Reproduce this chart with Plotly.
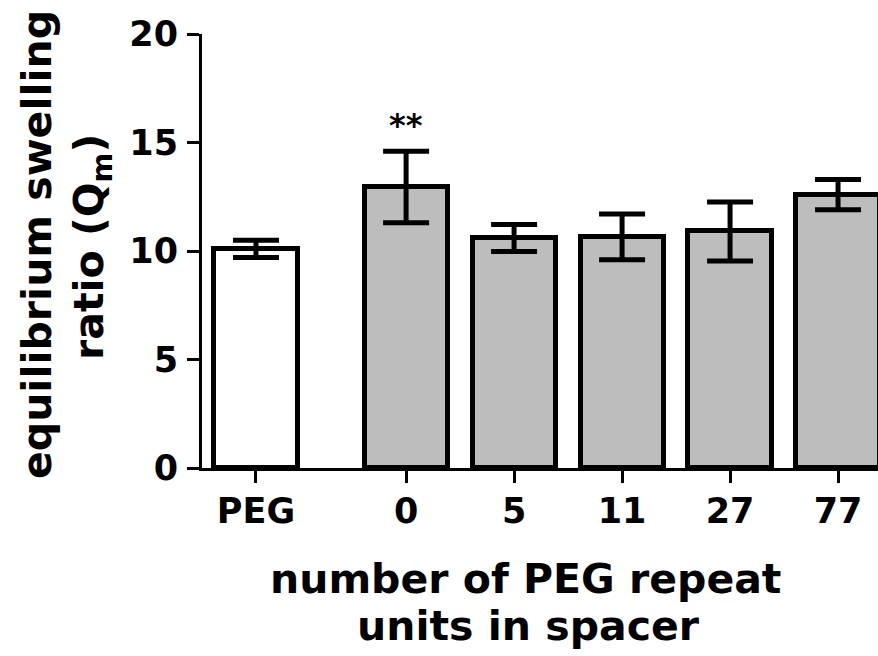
import plotly.graph_objects as go

categories = ["PEG", "0", "5", "11", "27", "77"]
means = [10.1, 12.95, 10.6, 10.65, 10.9, 12.6]
errors = [0.4, 1.65, 0.62, 1.05, 1.36, 0.7]
significance = ["", "**", "", "", "", ""]
y_ticks = [0, 5, 10, 15, 20]

# x positions: PEG separated from the spacer series by a wider gap
x_pos = [0.0] + [1.39 + i for i in range(len(categories) - 1)]
colors = ["white"] + ["#bdbdbd"] * (len(categories) - 1)

FONT = "DejaVu Sans"

fig = go.Figure()
fig.add_trace(go.Bar(
    x=x_pos, y=means, width=0.77,
    marker=dict(color=colors, line=dict(color="black", width=5)),
    error_y=dict(type="data", array=errors, visible=True,
                 color="black", thickness=5, width=23),
    showlegend=False, hoverinfo="skip",
))

for xp, m, e, s in zip(x_pos, means, errors, significance):
    if s:
        fig.add_annotation(x=xp, y=m + e, text=s, showarrow=False,
                           yanchor="bottom", yshift=5,
                           font=dict(family=FONT, size=32, color="black", weight="bold"))

W, H = 878, 656
L, R, T, B = 202, 0, 34, 188
pw, ph = W - L - R, H - T - B

def px(xpix):
    return (xpix - L) / pw

def py(ypix):
    return (H - B - ypix) / ph

title_font = dict(family=FONT, size=41, color="black", weight="bold")
# x axis title (two lines)
fig.add_annotation(xref="paper", yref="paper", x=px(525), y=py(593),
                   text="number of PEG repeat", showarrow=False,
                   xanchor="center", yanchor="middle", yshift=14, font=title_font)
fig.add_annotation(xref="paper", yref="paper", x=px(528), y=py(640),
                   text="units in spacer", showarrow=False,
                   xanchor="center", yanchor="middle", yshift=14, font=title_font)
# y axis title (two lines, rotated)
fig.add_annotation(xref="paper", yref="paper", x=px(37), y=py(245),
                   text="equilibrium swelling", showarrow=False, textangle=-90,
                   xanchor="center", yanchor="middle", font=title_font)
fig.add_annotation(xref="paper", yref="paper", x=px(92), y=py(247),
                   text="ratio (Q<sub>m</sub>)", showarrow=False, textangle=-90,
                   xanchor="center", yanchor="middle", font=title_font)

tick_font = dict(family=FONT, size=35, color="black", weight="bold")
fig.update_layout(
    width=W, height=H,
    margin=dict(l=L, r=R, t=T, b=B, pad=0),
    paper_bgcolor="white", plot_bgcolor="white",
    bargap=0,
    xaxis=dict(range=[-0.5, 5.76], tickmode="array", tickvals=x_pos,
               ticktext=categories, ticks="outside", ticklen=12, tickwidth=3,
               tickcolor="black", showline=True, linecolor="black", linewidth=3,
               showgrid=False, zeroline=False, tickfont=tick_font,
               ticklabelstandoff=-2),
    yaxis=dict(range=[0, 20], tickmode="array", tickvals=y_ticks,
               ticks="outside", ticklen=12, tickwidth=3, tickcolor="black",
               showline=True, linecolor="black", linewidth=3, showgrid=False,
               zeroline=False, tickfont=tick_font, ticklabelstandoff=2),
)

fig.write_html("out.html", config={"displayModeBar": False},
               post_script="document.body.style.margin='0';document.body.style.overflow='hidden';")
